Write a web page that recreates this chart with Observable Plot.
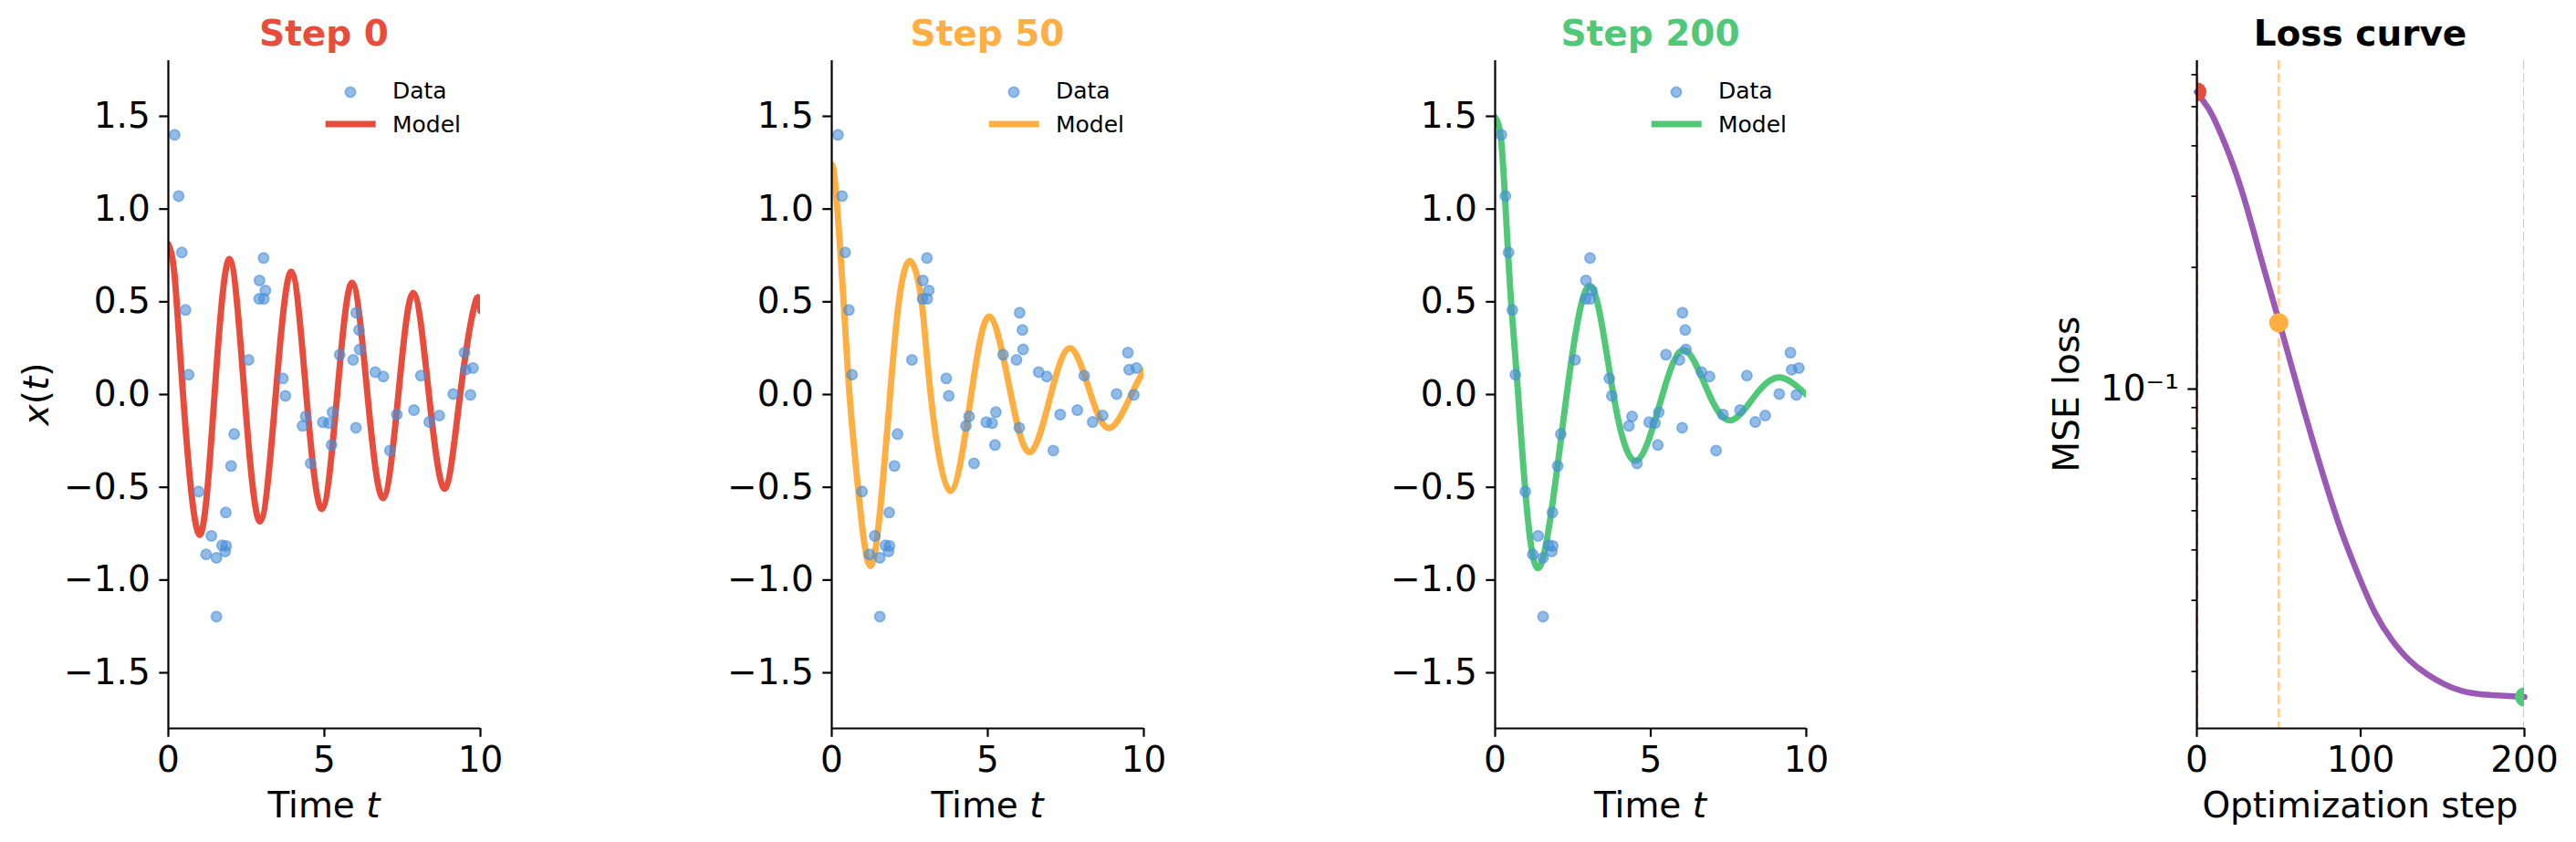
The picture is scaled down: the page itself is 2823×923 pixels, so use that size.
<!DOCTYPE html>
<html><head><meta charset="utf-8">
<script src="https://cdn.jsdelivr.net/npm/d3@7"></script>
<script src="https://cdn.jsdelivr.net/npm/@observablehq/plot@0.6"></script>
<style>
body{margin:0;background:#fff;}
#fig{position:relative;width:2823px;height:923px;background:#fff;overflow:hidden;font-family:"DejaVu Sans";}
#fig > svg{position:absolute;top:0;}
</style></head><body><div id="fig"></div>
<script>
// ---- data ----
const dataT = [0.20,0.33,0.43,0.55,0.65,0.97,1.21,1.38,1.54,1.54,1.72,1.82,1.84,1.85,2.01,2.11,2.57,2.91,2.92,3.05,3.06,3.11,3.67,3.75,4.30,4.40,4.56,4.95,5.14,5.23,5.26,5.49,5.92,6.01,6.02,6.11,6.13,6.63,6.89,7.10,7.32,7.87,8.09,8.36,8.68,9.13,9.49,9.53,9.68,9.76];
const dataX = [1.40,1.07,0.766,0.456,0.107,-0.523,-0.862,-0.762,-0.880,-1.197,-0.813,-0.846,-0.636,-0.816,-0.385,-0.213,0.187,0.516,0.615,0.736,0.516,0.561,0.087,-0.007,-0.169,-0.118,-0.371,-0.149,-0.154,-0.272,-0.095,0.215,0.187,-0.179,0.441,0.348,0.243,0.121,0.097,-0.302,-0.108,-0.084,0.102,-0.148,-0.113,0.003,0.226,0.134,-0.002,0.143];

const step0T = [0,0.2,0.47,0.99,1.48,1.96,2.44,2.94,3.44,3.94,4.42,4.92,5.41,5.89,6.38,6.88,7.37,7.85,8.35,8.86,9.35,9.83,10];
const step0X = [0.81,0.64,0,-0.756,0,0.731,0,-0.684,0,0.662,0,-0.617,0,0.603,0,-0.559,0,0.548,0,-0.507,0,0.493,0.45];

const step50T = [0,0.13,0.38,0.57,0.84,1.24,1.62,1.87,2.15,2.51,2.88,3.17,3.79,4.47,5.07,5.74,6.36,7.02,7.65,8.30,8.92,9.6,10];
const step50X = [1.24,1.1,0.5,0,-0.5,-0.925,-0.5,0,0.5,0.72,0.5,0,-0.52,0,0.42,0,-0.31,0,0.25,0,-0.18,0,0.13];

const step200T = [0,0.18,0.31,0.41,0.53,0.74,0.97,1.47,2.3,3.08,3.8,4.56,5.38,6.1,6.88,7.6,8.38,9.15,10];
const step200X = [1.494,1.39,1.08,0.78,0.46,0,-0.52,-0.917,0,0.584,0,-0.355,0,0.24,0,-0.138,0,0.092,0];

const lossStep = [0,5,10,20,30,40,50.4,65.5,76.5,87.2,97.9,108.5,119.2,129.9,140.5,151.2,161.8,172,183.2,200];
const lossVal  = [0.544,0.509,0.471,0.378,0.286,0.205,0.146,0.0883,0.0624,0.0457,0.0352,0.0281,0.0239,0.0213,0.0197,0.0186,0.0179,0.0176,0.01745,0.0173];

const markSteps = [0,50,200];
const markLoss  = [0.544,0.146,0.0173];

const timeTicks = [0,5,10];
const xTicksY   = [-1.5,-1.0,-0.5,0,0.5,1.0,1.5];
const stepTicks = [0,100,200];
const lossMajor = [0.1];
const lossMinor = [0.02,0.03,0.04,0.05,0.06,0.07,0.08,0.09,0.2,0.3,0.4,0.5,0.6];

const titles = ["Step 0","Step 50","Step 200","Loss curve"];
const colData = "#4A90D9";
const colSteps = ["#E74C3C","#FFAE42","#50C878"];
const colLoss = "#9B59B6";

// ---- layout ----
const ML = 184, MR = 50, MT = 66, MB = 125, H = 923;
const frames = [[184,526],[911,1253],[1638,1979],[2407,2766]];
const fig = document.getElementById("fig");
const fmt = d => (d < 0 ? "\u2212" : "") + Math.abs(d).toFixed(1);
const baseStyle = {fontFamily:"DejaVu Sans", fontSize:"39px", color:"#000", background:"transparent", overflow:"visible"};
const DOT_R = 5.6;

function place(svg, L){ svg.style.left = (L - ML) + "px"; fig.appendChild(svg); }

const pts = dataT.map((t,i)=>({t, x:dataX[i]}));
const models = [[step0T,step0X],[step50T,step50X],[step200T,step200X]];

models.forEach(([T,X], k) => {
  const [L,R] = frames[k];
  const model = T.map((t,i)=>({t, x:X[i]}));
  const svg = Plot.plot({
    width: ML + (R-L) + MR, height: H,
    marginLeft: ML, marginRight: MR, marginTop: MT, marginBottom: MB,
    style: baseStyle,
    x: {domain:[0,10]}, y: {domain:[-1.8,1.8]},
    marks: [
      Plot.line(model, {x:"t", y:"x", stroke: colSteps[k], strokeWidth: 6.9, curve:"natural", clip:true}),
      Plot.dot(pts, {x:"t", y:"x", r:DOT_R, fill: colData, fillOpacity:0.6, stroke: colData, strokeOpacity:0.6, strokeWidth:1.8}),
      Plot.ruleX([0], {strokeWidth:2.2}),
      Plot.ruleY([-1.8], {strokeWidth:2.2}),
      Plot.axisX({ticks: timeTicks, tickSize:9.7, tickPadding:10, strokeWidth:2.2, label:null, fontSize:39, tickFormat: d=>String(d)}),
      Plot.axisY({ticks: xTicksY, tickSize:9.7, tickPadding:10, strokeWidth:2.2, label:null, fontSize:39, tickFormat: fmt})
    ]
  });
  place(svg, L);
});

// loss panel
{
  const [L,R] = frames[3];
  const loss = lossStep.map((s,i)=>({s, v:lossVal[i]}));
  const marks3 = markSteps.map((s,i)=>({s, v:markLoss[i], c:colSteps[i]}));
  const svg = Plot.plot({
    width: ML + (R-L) + MR, height: H,
    marginLeft: ML, marginRight: MR, marginTop: MT, marginBottom: MB,
    style: baseStyle,
    x: {domain:[0,200]}, y: {type:"log", domain:[0.014462,0.6497]},
    marks: [
      Plot.ruleX(marks3, {x:"s", stroke:"c", strokeWidth:2.8, strokeOpacity:0.6, strokeDasharray:"10,4.5", clip:true}),
      Plot.line(loss, {x:"s", y:"v", stroke: colLoss, strokeWidth:6.5, curve:"natural"}),
      Plot.dot(marks3, {x:"s", y:"v", fill:"c", r:10.5, clip:true}),
      Plot.ruleX([0], {strokeWidth:2.2}),
      Plot.ruleY([0.014462], {strokeWidth:2.2}),
      Plot.axisX({ticks: stepTicks, tickSize:9.7, tickPadding:10, strokeWidth:2.2, label:null, fontSize:39, tickFormat: d=>String(d)}),
      Plot.axisY({ticks: lossMajor, tickSize:9.7, tickPadding:10, strokeWidth:2.2, label:null, fontSize:39, tickFormat: ()=>"10\u207B\u00B9"}),
      Plot.axisY({ticks: lossMinor, tickSize:5.5, strokeWidth:1.7, label:null, tickFormat: ()=>""})
    ]
  });
  place(svg, L);
}

// ---- overlay: titles, axis labels, legends ----
const NS = "http://www.w3.org/2000/svg";
const ov = document.createElementNS(NS, "svg");
ov.setAttribute("width", 2823); ov.setAttribute("height", 923);
ov.style.position = "absolute"; ov.style.left = "0px"; ov.style.top = "0px";
ov.style.fontFamily = "DejaVu Sans";
fig.appendChild(ov);
function txt(x, y, html, opts={}) {
  const t = document.createElementNS(NS, "text");
  t.setAttribute("x", x); t.setAttribute("y", y);
  t.setAttribute("text-anchor", opts.anchor || "middle");
  t.setAttribute("font-size", opts.size || 39);
  if (opts.weight) t.setAttribute("font-weight", opts.weight);
  t.setAttribute("fill", opts.fill || "#000");
  if (opts.transform) t.setAttribute("transform", opts.transform);
  t.innerHTML = html;
  ov.appendChild(t);
  return t;
}
function el(name, attrs) {
  const e = document.createElementNS(NS, name);
  for (const k in attrs) e.setAttribute(k, attrs[k]);
  ov.appendChild(e); return e;
}
frames.forEach(([L,R], k) => {
  const cx = (L+R)/2;
  txt(cx, 50, titles[k], {weight:"bold", fill: k<3 ? colSteps[k] : "#000"});
  if (k < 3) {
    txt(cx, 896, 'Time <tspan font-style="italic">t</tspan>');
    // legend
    el("circle", {cx:R-142, cy:101, r:DOT_R, fill:colData, "fill-opacity":0.6, stroke:colData, "stroke-opacity":0.6, "stroke-width":1.8});
    el("line", {x1:R-169.3, x2:R-114.3, y1:136, y2:136, stroke:colSteps[k], "stroke-width":6.9});
    txt(R-96, 108.3, "Data", {anchor:"start", size:25});
    txt(R-96, 145, "Model", {anchor:"start", size:25});
  } else {
    txt(cx, 896, "Optimization step");
  }
});
txt(0, 0, '<tspan font-style="italic">x</tspan>(<tspan font-style="italic">t</tspan>)', {transform:"translate(53,432) rotate(-90)"});
txt(0, 0, "MSE loss", {transform:"translate(2278,432) rotate(-90)"});
</script></body></html>
